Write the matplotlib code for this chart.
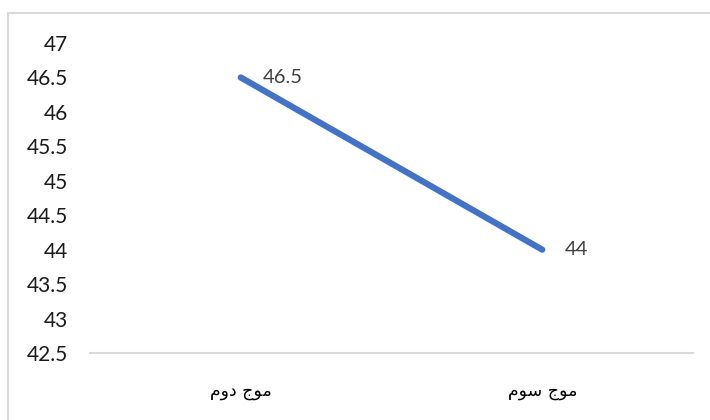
import matplotlib.pyplot as plt
from matplotlib.patches import Rectangle

categories = ['موج دوم', 'موج سوم']
values = [46.5, 44]
y_ticks = [42.5, 43, 43.5, 44, 44.5, 45, 45.5, 46, 46.5, 47]

# matplotlib has no arabic shaping, so pick the presentation forms by hand
forms = {
    'م': ('\ufee1', '\ufee2', '\ufee3', '\ufee4'),
    'ج': ('\ufe9d', '\ufe9e', '\ufe9f', '\ufea0'),
    'س': ('\ufeb1', '\ufeb2', '\ufeb3', '\ufeb4'),
    'و': ('\ufeed', '\ufeee', '\ufeed', '\ufeee'),
    'د': ('\ufea9', '\ufeaa', '\ufea9', '\ufeaa'),
}
joins_next = set('مجس')


def shape(text):
    out = []
    for i, ch in enumerate(text):
        if ch not in forms:
            out.append(ch)
            continue
        prev = text[i - 1] if i > 0 else ' '
        nxt = text[i + 1] if i < len(text) - 1 else ' '
        from_prev = prev in joins_next
        to_next = ch in joins_next and nxt in forms
        if from_prev and to_next:
            out.append(forms[ch][3])
        elif from_prev:
            out.append(forms[ch][1])
        elif to_next:
            out.append(forms[ch][2])
        else:
            out.append(forms[ch][0])
    return ''.join(out[::-1])


fig = plt.figure(figsize=(7.1, 4.2), dpi=100)
fig.patches.append(Rectangle((7.5 / 710, -0.1), 1.2, (420 - 13) / 420 + 0.1,
                             transform=fig.transFigure, fill=False,
                             edgecolor='#D9D9D9', linewidth=1.5))
ax = fig.add_axes([90 / 710, (420 - 353) / 420, 603 / 710, 310 / 420])

x = list(range(len(categories)))
ax.plot(x, values, color='#4472C4', linewidth=4.5, solid_capstyle='round')
for xi, v in zip(x, values):
    ax.annotate(f'{v:g}', (xi, v), xytext=(16, 0), textcoords='offset points',
                ha='left', va='center', fontsize=14.5, color='#404040',
                family='Lato')

ax.set_xlim(-0.5, 1.5)
ax.set_ylim(42.5, 47)
ax.set_yticks(y_ticks)
ax.set_yticklabels([f'{t:g}' for t in y_ticks], family='Lato', fontsize=15,
                   color='#1a1a1a')
ax.set_xticks(x)
ax.set_xticklabels([shape(c) for c in categories], family='DejaVu Sans',
                   fontsize=12.5)
ax.tick_params(axis='both', length=0)
ax.tick_params(axis='y', pad=16)
ax.tick_params(axis='x', pad=21)
for s in ['top', 'right', 'left']:
    ax.spines[s].set_visible(False)
ax.spines['bottom'].set_color('#D9D9D9')
ax.spines['bottom'].set_linewidth(1.5)

fig.savefig('out.png', dpi=100)
